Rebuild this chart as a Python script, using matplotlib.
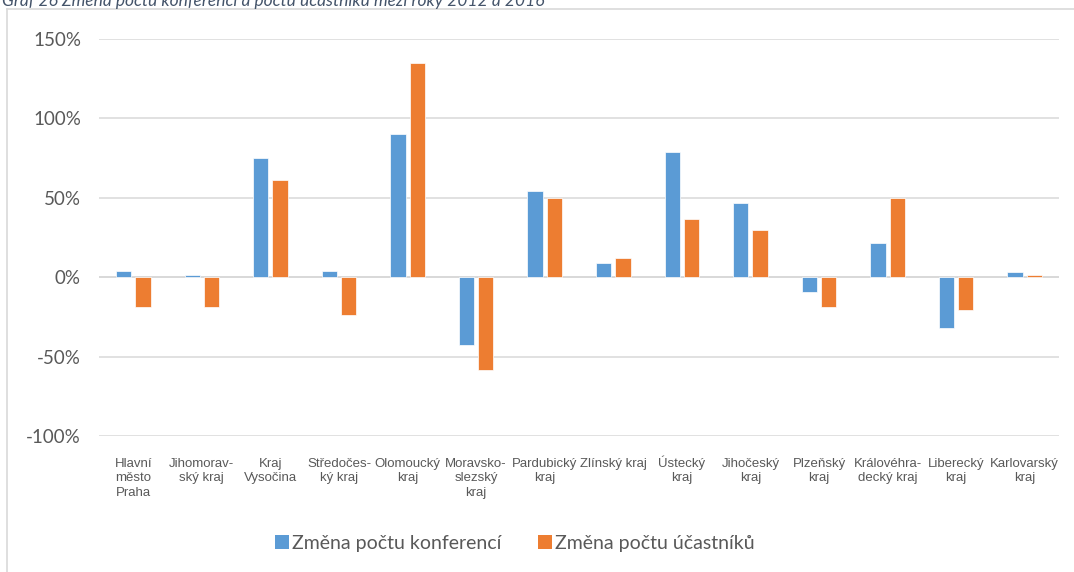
import matplotlib
matplotlib.use("Agg")
import matplotlib.pyplot as plt
import matplotlib.transforms as mtransforms
import numpy as np
from matplotlib.lines import Line2D
from matplotlib.patches import Patch

categories = ["Hlavní\nměsto\nPraha", "Jihomorav-\nský kraj", "Kraj\nVysočina", "Středočes-\nký kraj",
              "Olomoucký\nkraj", "Moravsko-\nslezský\nkraj", "Pardubický\nkraj", "Zlínský kraj",
              "Ústecký\nkraj", "Jihočeský\nkraj", "Plzeňský\nkraj", "Královéhra-\ndecký kraj",
              "Liberecký\nkraj", "Karlovarský\nkraj"]
konference = [4, 1.3, 75, 4.2, 90, -43, 54, 9.2, 79, 47, -9.6, 21.6, -32, 3]
ucastnici = [-19, -19, 61, -23.5, 135, -58.6, 50, 12.4, 36.7, 29.6, -19, 50, -20.6, 1.2]
yticks = [-100, -50, 0, 50, 100, 150]
series_names = ["Změna počtu konferencí", "Změna počtu účastníků"]
title = "Graf 26 Změna počtu konferencí a počtu účastníků mezi roky 2012 a 2016"

W, H = 1074, 572
fig = plt.figure(figsize=(W / 100, H / 100), dpi=100)
ax = fig.add_axes([99 / W, (H - 436) / H, 960 / W, 397 / H])

blue = "#5B9BD5"
orange = "#ED7D31"
x = np.arange(len(categories))
bw = 0.223
off = 0.141
ax.bar(x - off, konference, bw, color=blue, edgecolor="white", linewidth=0.5, zorder=3)
ax.bar(x + off, ucastnici, bw, color=orange, edgecolor="white", linewidth=0.5, zorder=3)

ax.set_xlim(-0.5, len(categories) - 0.5)
ax.set_ylim(-100, 150)
ax.set_yticks(yticks)
ax.set_yticklabels([f"{v}%" for v in yticks], family="Lato", fontsize=13.5, color="#595959")
ax.tick_params(axis="y", length=0, pad=13)
ax.set_xticks(x)
labels = ax.set_xticklabels(categories, family=["Liberation Sans Narrow", "Liberation Sans"],
                            fontsize=9.5, color="#595959", linespacing=1.25, va="top")
ax.tick_params(axis="x", length=0, pad=16)
# tall capital accent (Ú) enlarges the first line box; lift that label back into line
for lab in labels:
    if lab.get_text().startswith("Ú"):
        lab.set_transform(lab.get_transform() +
                          mtransforms.ScaledTranslation(0, 3 / 100, fig.dpi_scale_trans))
ax.grid(axis="y", color="#D9D9D9", linewidth=1.1, zorder=0)
ax.axhline(0, color="#D9D9D9", linewidth=1.4, zorder=2)
for s in ax.spines.values():
    s.set_visible(False)

# frame
fig.add_artist(Line2D([7 / W, 7 / W], [0, (H - 9) / H], color="#D9D9D9", linewidth=1.2))
fig.add_artist(Line2D([7 / W, 1], [(H - 9) / H, (H - 9) / H], color="#D9D9D9", linewidth=1.2))

fig.text(2 / W, (H - 6) / H, title, family="Lato", style="italic", fontsize=12.5,
         color="#44546A", va="baseline", ha="left")

handles = [Patch(facecolor=blue), Patch(facecolor=orange)]
fig.legend(handles, series_names, loc="center", bbox_to_anchor=(515 / W, (H - 543) / H),
           ncol=2, frameon=False, prop={"family": "Lato", "size": 14},
           labelcolor="#595959", handlelength=0.7, handleheight=0.7, handletextpad=0.15,
           columnspacing=1.9)

fig.savefig("out.png", dpi=100, facecolor="white")
